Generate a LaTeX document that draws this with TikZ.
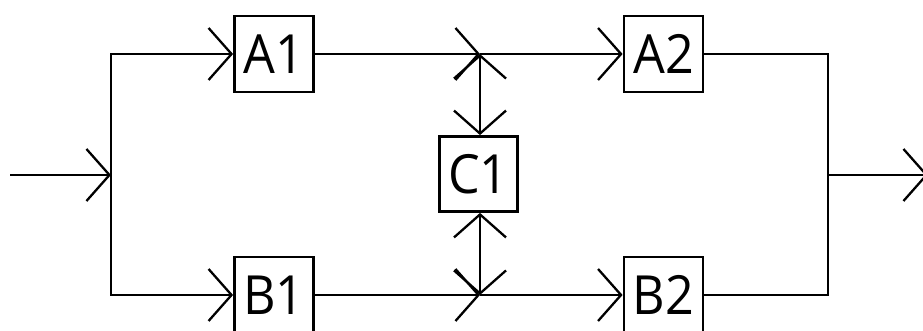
\documentclass[tikz,border=0pt]{standalone}
\usepackage{fontspec}
\newfontfamily\labelfont{Open Sans}
\usetikzlibrary{arrows.meta}
\tikzset{
  blk/.style={draw, line width=2.8pt, minimum width=79pt, minimum height=76pt, inner sep=0pt,
    font=\labelfont\fontsize{54}{60}\selectfont},
  wire/.style={line width=2.3pt},
  tip/.tip={Straight Barb[length=23pt,width=52pt,line width=2.3pt]},
  >=tip
}
\newcommand{\lbl}[1]{\scalebox{0.93}[1]{#1}}
\begin{document}
\begin{tikzpicture}[x=1pt,y=-1pt]
\useasboundingbox (0,0) rectangle (923,331);
\node[blk] (A1) at (274,54) {\lbl{A1}};
\node[blk] (B1) at (274,295) {\lbl{B1}};
\node[blk] (A2) at (663.5,54) {\lbl{A2}};
\node[blk] (B2) at (663.5,295) {\lbl{B2}};
\node[blk, minimum width=78pt, minimum height=75pt] (C1) at (478.5,174) {\lbl{C1}};
\coordinate (in) at (10,175);
\coordinate (s) at (111,175);
\coordinate (ja) at (480,54);
\coordinate (jb) at (480,295);
\coordinate (m) at (828,175);
\coordinate (out) at (928,175);
\draw[wire,->] (in) -- (s);
\draw[wire,->] (s) |- (A1);
\draw[wire,->] (s) |- (B1);
\draw[wire,->] (A1) -- (ja);
\draw[wire,->] (ja) -- (A2);
\draw[wire,->] (B1) -- (jb);
\draw[wire,->] (jb) -- (B2);
\draw[wire,<->] (ja) -- (ja |- C1.north);
\draw[wire,<->] (jb) -- (jb |- C1.south);
\draw[wire] (A2) -| (m);
\draw[wire] (m) |- (B2);
\draw[wire,->] (m) -- (out);
\end{tikzpicture}
\end{document}
